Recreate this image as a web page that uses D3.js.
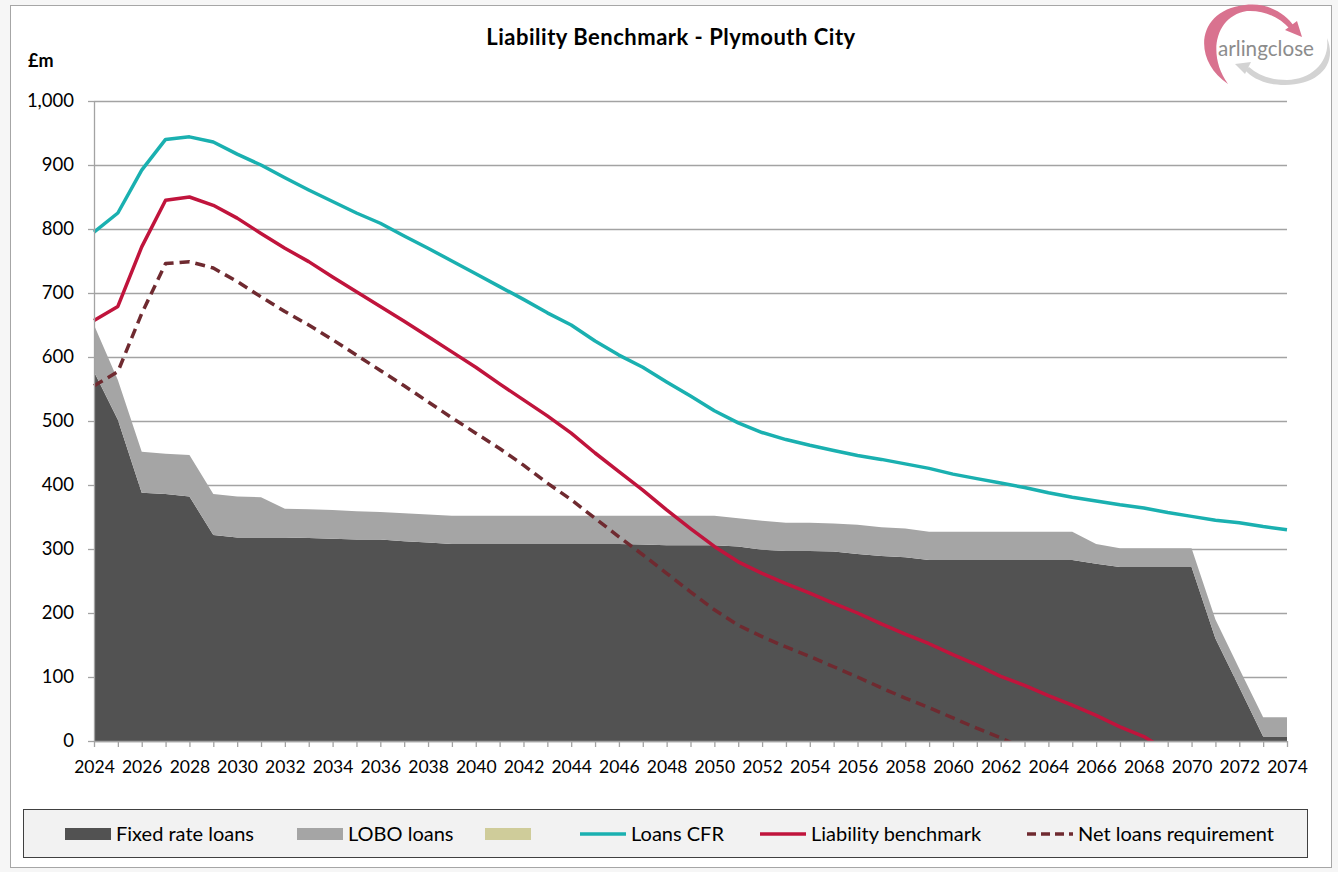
<!DOCTYPE html>
<html>
<head>
<meta charset="utf-8">
<script src="https://cdnjs.cloudflare.com/ajax/libs/d3/7.8.5/d3.min.js"></script>
<style>
	body { margin: 0; background: #f6f6f6; }
	text { font-family: Lato, "Noto Sans", sans-serif; }
</style>
</head>
<body>
<div id="chart"></div>
<script>
// years on the category axis
var years = d3.range(2024, 2075);

// stacked areas (£m)
var fixedLoans = [577, 502, 388, 386, 382, 322, 318, 318, 318, 317,
	316, 315, 315, 312, 310, 308, 308, 308, 308, 308,
	308, 308, 308, 307, 306, 306, 306, 304, 299, 297,
	297, 296, 292, 289, 287, 283, 283, 283, 283, 283,
	283, 283, 277, 272, 272, 272, 272, 160, 84, 7, 7];
var loboLoans = [73, 62, 64, 63, 65, 64, 64, 63, 45, 45,
	45, 44, 43, 44, 44, 44, 44, 44, 44, 44,
	44, 44, 44, 45, 46, 46, 46, 44, 45, 44,
	44, 44, 46, 45, 45, 44, 44, 44, 44, 44,
	44, 44, 31, 29, 29, 29, 29, 30, 29, 30, 30];

// lines (£m)
var loansCFR = [795, 825, 892, 940, 944, 936, 917, 900, 880, 861,
	843, 825, 809, 789, 770, 750, 730, 710, 690, 669,
	650, 625, 603, 584, 561, 539, 516, 497, 482, 471,
	462, 454, 446, 440, 433, 426, 417, 410, 403, 396,
	388, 381, 375, 369, 364, 357, 351, 345, 341, 335, 330];
var liabilityBenchmark = [657, 679, 772, 845, 850, 837, 817, 793, 770, 749,
	725, 702, 679, 656, 632, 608, 584, 558, 533, 508,
	481, 450, 421, 392, 361, 332, 304, 280, 262, 246,
	231, 215, 200, 183, 167, 152, 135, 119, 101, 87,
	71, 56, 40, 22, 7, -16, null, null, null, null, null];
var netLoans = [555, 577, 668, 746, 749, 739, 718, 694, 671, 650,
	627, 603, 579, 555, 530, 505, 481, 457, 431, 403,
	377, 348, 319, 291, 262, 233, 205, 181, 163, 147,
	132, 116, 100, 83, 67, 52, 36, 20, 5, -12,
	null, null, null, null, null, null, null, null, null, null, null];

var yTicks = [0, 100, 200, 300, 400, 500, 600, 700, 800, 900, 1000];

// colours
var cFixed = "#525252", cLobo = "#a5a5a5", cBlank = "#cfcc9a",
	cCFR = "#1ab0b0", cLB = "#c0143c", cNet = "#6f2a30";

var W = 1338, H = 872;
var margin = {left: 94, right: 51, top: 101, bottom: 131};
var width = W - margin.left - margin.right,
	height = H - margin.top - margin.bottom;

var svg = d3.select("#chart").append("svg")
	.attr("width", W)
	.attr("height", H);

// outer frame
svg.append("rect")
	.attr("x", 10.5).attr("y", 5.5)
	.attr("width", 1321).attr("height", 862)
	.attr("fill", "#fff")
	.attr("stroke", "#a6a6a6");

var canvas = svg.append("g")
	.attr("transform", "translate(" + margin.left + "," + margin.top + ")");

var x = d3.scaleLinear().domain([2024, 2074]).range([0, width]);
var y = d3.scaleLinear().domain([0, 1000]).range([height, 0]);

// gridlines
canvas.append("g")
	.attr("class", "grid")
	.call(d3.axisLeft(y).tickValues(yTicks).tickSize(-width).tickFormat(""))
	.call(g => g.select(".domain").remove())
	.selectAll("line")
		.attr("stroke", "#a3a3a3")
		.attr("stroke-width", 1.3);

// stacked areas
var rows = years.map(function(yr, i){
	return {year: yr, fixed: fixedLoans[i], lobo: loboLoans[i]};
});
var stack = d3.stack().keys(["fixed", "lobo"])(rows);
var area = d3.area()
	.x(function(d){ return x(d.data.year) })
	.y0(function(d){ return y(d[0]) })
	.y1(function(d){ return y(d[1]) });

canvas.selectAll(".layer")
	.data(stack)
	.enter().append("path")
		.attr("class", "layer")
		.attr("fill", function(d){ return d.key == "fixed" ? cFixed : cLobo })
		.attr("d", area);

// clip lines to the plot area
canvas.append("clipPath").attr("id", "plotclip")
	.append("rect").attr("x", -2).attr("y", -5)
	.attr("width", width + 4).attr("height", height + 5);

var line = d3.line()
	.defined(function(d){ return d != null })
	.x(function(d, i){ return x(years[i]) })
	.y(function(d){ return y(d) });

var series = [
	{vals: loansCFR, color: cCFR, dash: null},
	{vals: liabilityBenchmark, color: cLB, dash: null},
	{vals: netLoans, color: cNet, dash: "10,6"}
];

series.forEach(function(s){
	canvas.append("path")
		.attr("clip-path", "url(#plotclip)")
		.attr("fill", "none")
		.attr("stroke", s.color)
		.attr("stroke-width", 3.5)
		.attr("stroke-linejoin", "round")
		.attr("stroke-dasharray", s.dash)
		.attr("d", line(s.vals));
});

// axes
var xAxisCall = d3.axisBottom(x)
	.tickValues(years)
	.tickSize(6)
	.tickPadding(14)
	.tickFormat(function(d){ return (d % 2 == 0) ? d : "" });
canvas.append("g")
	.attr("class", "x-axis")
	.attr("transform", "translate(0," + height + ")")
	.call(xAxisCall);

var yAxisCall = d3.axisLeft(y)
	.tickValues(yTicks)
	.tickSize(6)
	.tickPadding(14)
	.tickFormat(d3.format(","));
canvas.append("g")
	.attr("class", "y-axis")
	.call(yAxisCall);

canvas.selectAll(".x-axis, .y-axis").selectAll(".domain, line")
	.attr("stroke", "#a3a3a3")
	.attr("stroke-width", 1.3);
canvas.selectAll(".x-axis .domain, .y-axis .domain")
	.attr("d", function(){
		return d3.select(this.parentNode).classed("x-axis") ? "M0,0.5H" + width : "M0.5," + height + "V0";
	});
canvas.selectAll(".x-axis text")
	.attr("font-size", "17.5px")
	.attr("font-family", "Lato")
	.attr("fill", "#000");
canvas.selectAll(".y-axis text")
	.attr("font-size", "18.5px")
	.attr("font-family", "Lato")
	.attr("fill", "#000");

// title
svg.append("text")
	.attr("x", 671).attr("y", 45)
	.attr("text-anchor", "middle")
	.attr("font-size", "22px")
	.attr("font-weight", "bold")
	.attr("letter-spacing", "0.5px")
	.text("Liability Benchmark - Plymouth City");

// unit label
svg.append("text")
	.attr("x", 28).attr("y", 67)
	.attr("font-size", "18px")
	.attr("font-weight", "bold")
	.text("£m");

// logo
var logo = svg.append("g");
logo.append("path")
	.attr("fill", "#d9728f")
	.attr("d", "M1228,84 C1192,60 1196,10 1245,5 C1268,2 1286,14 1294,26 L1290,29 C1280,18 1265,10 1247,11 C1215,16 1207,55 1228,84 Z");
logo.append("polygon")
	.attr("fill", "#d9728f")
	.attr("points", "1285,30 1302,37 1297,21");
logo.append("path")
	.attr("fill", "#d3d3d3")
	.attr("d", "M1327,38 C1338,65 1318,85 1285,85 C1265,85 1252,78 1245,70 L1249,67 C1259,76 1272,80 1287,80 C1312,79 1330,62 1327,38 Z");
logo.append("polygon")
	.attr("fill", "#d3d3d3")
	.attr("points", "1235,64 1251,62 1245,74");
logo.append("text")
	.attr("x", 1218).attr("y", 56)
	.attr("font-family", "Open Sans")
	.attr("font-size", "22px")
	.attr("textLength", 96)
	.attr("lengthAdjust", "spacingAndGlyphs")
	.attr("fill", "#8c8c8c")
	.text("arlingclose");

// legend
var legend = svg.append("g");
legend.append("rect")
	.attr("x", 23.5).attr("y", 809.5)
	.attr("width", 1284).attr("height", 48)
	.attr("fill", "#f2f2f2")
	.attr("stroke", "#404040");

var legendItems = [
	{label: "Fixed rate loans", type: "rect", color: cFixed, x: 65},
	{label: "LOBO loans", type: "rect", color: cLobo, x: 297},
	{label: "", type: "rect", color: cBlank, x: 485},
	{label: "Loans CFR", type: "line", color: cCFR, x: 580},
	{label: "Liability benchmark", type: "line", color: cLB, x: 760},
	{label: "Net loans requirement", type: "dash", color: cNet, x: 1027}
];

legendItems.forEach(function(item){
	var row = legend.append("g").attr("transform", "translate(" + item.x + ",834)");
	if (item.type == "rect") {
		row.append("rect")
			.attr("x", 0).attr("y", -6)
			.attr("width", 46).attr("height", 12)
			.attr("fill", item.color);
	} else {
		row.append("line")
			.attr("x1", 0).attr("x2", 46)
			.attr("stroke", item.color)
			.attr("stroke-width", 3.5)
			.attr("stroke-dasharray", item.type == "dash" ? "9,5" : null);
	}
	row.append("text")
		.attr("x", 51).attr("y", 7)
		.attr("font-size", "20px")
		.text(item.label);
});
</script>
</body>
</html>
